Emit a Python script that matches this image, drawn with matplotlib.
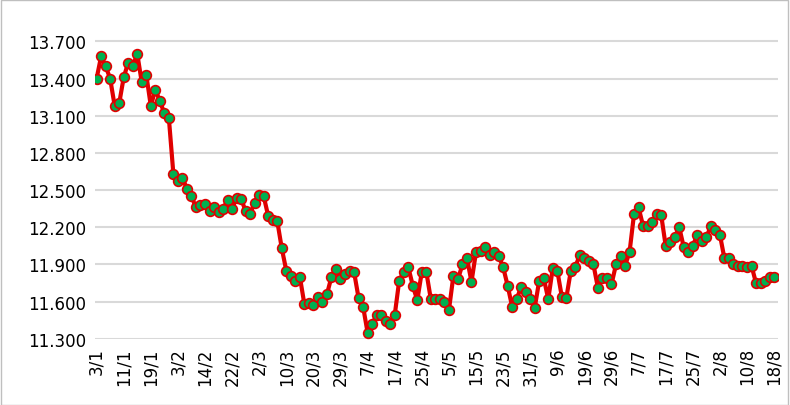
import matplotlib
matplotlib.use("Agg")
import matplotlib.pyplot as plt
from matplotlib.patches import Rectangle

values = [
    13.40, 13.58, 13.50, 13.40, 13.18, 13.20, 13.41, 13.53, 13.50, 13.60,
    13.37, 13.43, 13.18, 13.31, 13.22, 13.12, 13.08, 12.63, 12.57, 12.60,
    12.51, 12.45, 12.36, 12.38, 12.39, 12.33, 12.36, 12.32, 12.35, 12.42,
    12.35, 12.44, 12.43, 12.33, 12.31, 12.40, 12.46, 12.45, 12.29, 12.26,
    12.25, 12.03, 11.85, 11.81, 11.77, 11.80, 11.58, 11.59, 11.57, 11.64,
    11.60, 11.66, 11.80,
    11.86, 11.78, 11.82, 11.85, 11.84, 11.63, 11.56, 11.35, 11.42, 11.49,
    11.49, 11.44, 11.42, 11.49, 11.77, 11.84, 11.88, 11.73, 11.61, 11.84,
    11.84, 11.62, 11.62, 11.62, 11.60, 11.53, 11.81, 11.78, 11.90, 11.95,
    11.76, 12.00, 12.01, 12.04, 11.98, 12.00, 11.97, 11.88, 11.73, 11.56,
    11.62, 11.72, 11.68, 11.62, 11.55, 11.77, 11.79, 11.62, 11.87, 11.85,
    11.64, 11.63, 11.85, 11.88, 11.98, 11.95, 11.93, 11.90, 11.71, 11.79,
    11.79, 11.74, 11.90, 11.97, 11.89, 12.00, 12.31, 12.36, 12.21, 12.21,
    12.24, 12.31, 12.30, 12.05, 12.08, 12.12, 12.20, 12.04, 12.00, 12.05,
    12.14, 12.09, 12.12, 12.21, 12.18, 12.14, 11.95, 11.95, 11.90, 11.89,
    11.89, 11.88, 11.89, 11.75, 11.75, 11.77, 11.80, 11.80,
]
tick_labels = ["3/1", "11/1", "19/1", "3/2", "14/2", "22/2", "2/3", "10/3",
               "20/3", "29/3", "7/4", "17/4", "25/4", "5/5", "15/5", "23/5",
               "31/5", "9/6", "19/6", "29/6", "7/7", "17/7", "25/7", "2/8",
               "10/8", "18/8"]
y_ticks = [11.3, 11.6, 11.9, 12.2, 12.5, 12.8, 13.1, 13.4, 13.7]

fig = plt.figure(figsize=(7.9, 4.06), dpi=100)
ax = fig.add_axes([0.12, 0.163, 0.865, 0.763])

x = list(range(len(values)))
ax.plot(x, values, color="#E00000", linewidth=3, marker="o", markersize=7,
        markerfacecolor="#00B050", markeredgecolor="#E00000", markeredgewidth=1.2,
        zorder=3)

ax.set_ylim(11.3, 13.8)
ax.set_xlim(-0.4, 150.9)
ax.set_yticks(y_ticks)
ax.set_yticklabels([f"{v:.3f}".replace(".", ".") for v in y_ticks], fontsize=12)
ax.set_xticks([i * 6 for i in range(len(tick_labels))])
ax.set_xticklabels(tick_labels, rotation=90, fontsize=12)
ax.tick_params(length=0, pad=6)
ax.grid(axis="y", color="#D9D9D9", linewidth=1.5)
ax.set_axisbelow(True)
for s in ax.spines.values():
    s.set_visible(False)

fig.patches.append(Rectangle((0.001, 0.001), 0.997, 0.997, transform=fig.transFigure,
                             fill=False, edgecolor="#BFBFBF", linewidth=1))
fig.savefig("out.png", dpi=100)
